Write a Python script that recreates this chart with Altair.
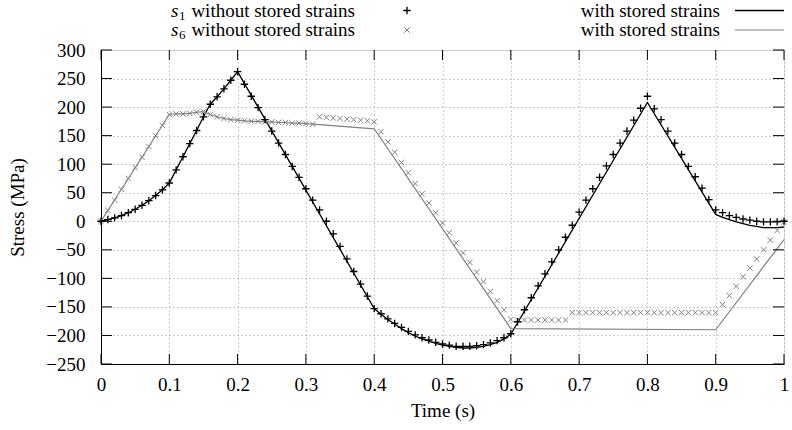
import altair as alt
import pandas as pd

# ---------------- data ----------------
t = [i / 100 for i in range(101)]

s1_without = [0, 3, 6, 10, 15, 21, 28, 36, 45, 55, 67,
              90, 113, 136, 159, 183, 205, 218, 232, 247, 262,
              240, 219, 199, 178, 158, 137, 117, 96, 77, 57,
              37, 20, 0, -22, -44, -66, -88, -110, -131, -153,
              -162, -171, -179, -186, -193, -199, -204, -208, -212, -215,
              -217, -219, -219, -219, -218, -216, -213, -209, -204, -197,
              -176, -155, -134, -113, -92, -71, -50, -28, -7, 16,
              37, 57, 77, 97, 117, 137, 158, 177, 198, 219,
              197, 178, 158, 137, 117, 96, 78, 58, 38, 20,
              15, 10, 7, 4, 2, 0, -1, -1, -1, 0]

s6_without = [0, 19, 37, 56, 75, 94, 112, 131, 150, 168, 187,
              188, 188, 189, 191, 192, 187, 183, 180, 178, 177,
              176, 175, 175, 174, 174, 173, 173, 172, 172, 171, 170,
              183, 182, 181, 180, 179, 178, 177, 176, 174,
              157, 139, 121, 103, 85, 66, 48, 32, 15, -3,
              -20, -38, -55, -72, -89, -106, -123, -139, -155,
              -172, -173, -173, -173, -173, -173, -173, -173, -173,
              -160, -160, -160, -160, -160, -160, -160, -160, -160, -160, -160,
              -160, -160, -160, -160, -160, -160, -160, -160, -160, -160, -160,
              -146, -130, -114, -97, -82, -66, -50, -33, -16, -1]

t_s1_with = [0, 0.01, 0.02, 0.03, 0.04, 0.05, 0.06, 0.07, 0.08, 0.09, 0.10,
             0.11, 0.12, 0.13, 0.14, 0.15, 0.16, 0.17, 0.18, 0.19, 0.20,
             0.40, 0.41, 0.42, 0.43, 0.44, 0.45, 0.46, 0.47, 0.48, 0.49, 0.50,
             0.51, 0.52, 0.53, 0.54, 0.55, 0.56, 0.57, 0.58, 0.59, 0.60,
             0.80, 0.90, 0.91, 0.92, 0.93, 0.94, 0.95, 0.96, 0.97, 0.98, 0.99, 1.00]
s1_with = [0, 3, 6, 10, 15, 21, 28, 36, 45, 55, 67,
           90, 113, 136, 159, 183, 205, 218, 232, 247, 262,
           -153, -163, -172, -180, -188, -195, -201, -206, -210, -214, -217,
           -219, -221, -222, -222, -221, -219, -216, -212, -206, -198,
           208, 12, 7, 3, -1, -4, -7, -9, -11, -11, -11, -10]

t_s6_with = [0, 0.10, 0.11, 0.12, 0.13, 0.14, 0.15, 0.16, 0.17, 0.18, 0.19, 0.20,
             0.21, 0.22, 0.23, 0.24, 0.25, 0.26, 0.27, 0.28, 0.29, 0.30, 0.31,
             0.40, 0.60, 0.90, 1.00]
s6_with = [0, 187, 188, 188, 189, 191, 192, 187, 183, 180, 178, 177,
           176, 175, 175, 174, 174, 173, 173, 172, 172, 171, 170,
           162, -188, -190, -32]

x_ticks = [0, 0.1, 0.2, 0.3, 0.4, 0.5, 0.6, 0.7, 0.8, 0.9, 1]
y_ticks = [-250, -200, -150, -100, -50, 0, 50, 100, 150, 200, 250, 300]

legend_rows = ["without stored strains", "without stored strains"]
legend_subs = ["1", "6"]
legend_right = ["with stored strains", "with stored strains"]

# ---------------- style ----------------
W, H = 683, 314
FONT = "Liberation Serif"
BLACK = "#000000"
GREY = "#808080"
PLUS = "M-1,0L1,0M0,-1L0,1"
TIMES = "M-1,-1L1,1M-1,1L1,-1"

xs = alt.Scale(domain=[0, 1], nice=False, zero=False)
ys = alt.Scale(domain=[-250, 300], nice=False, zero=False)

x_axis = alt.Axis(values=x_ticks, format="~g", grid=True, gridDash=[1, 3],
                  gridColor="#9a9a9a", gridWidth=1, ticks=False,
                  labelFont=FONT, labelFontSize=19, labelColor=BLACK,
                  labelPadding=11, title="Time (s)", titleFont=FONT,
                  titleFontSize=19, titleFontWeight="normal", titleColor=BLACK,
                  titlePadding=7, domainColor=BLACK, labelFlush=False)
y_axis = alt.Axis(values=y_ticks, grid=True, gridDash=[1, 3],
                  gridColor="#9a9a9a", gridWidth=1, ticks=False,
                  labelFont=FONT, labelFontSize=19, labelColor=BLACK,
                  labelPadding=16, title="Stress (MPa)", titleFont=FONT,
                  titleFontSize=19, titleFontWeight="normal", titleColor=BLACK,
                  titlePadding=18, domainColor=BLACK, labelFlush=False)

df_s1w = pd.DataFrame({"t": t_s1_with, "v": s1_with})
df_s6w = pd.DataFrame({"t": t_s6_with, "v": s6_with})
df_m = pd.DataFrame({"t": t, "s1": s1_without, "s6": s6_without})


def X(field):
    return alt.X(field, scale=xs, axis=x_axis)


def Y(field):
    return alt.Y(field, scale=ys, axis=y_axis)


line_s1 = alt.Chart(df_s1w).mark_line(color=BLACK, strokeWidth=1.3).encode(
    x=X("t:Q"), y=Y("v:Q"))
line_s6 = alt.Chart(df_s6w).mark_line(color=GREY, strokeWidth=1.2).encode(
    x=X("t:Q"), y=Y("v:Q"))
pts_s6 = alt.Chart(df_m).mark_point(shape=TIMES, size=30, color=GREY,
                                   strokeWidth=1.0, filled=False, opacity=1).encode(
    x=X("t:Q"), y=Y("s6:Q"))
pts_s1 = alt.Chart(df_m).mark_point(shape=PLUS, size=55, color=BLACK,
                                   strokeWidth=1.3, filled=False, opacity=1).encode(
    x=X("t:Q"), y=Y("s1:Q"))

# inward mirrored ticks (gnuplot style)
df_xt = pd.DataFrame({"t": x_ticks})
df_yt = pd.DataFrame({"v": y_ticks})
tick_bot = alt.Chart(df_xt).mark_rule(color=BLACK, strokeWidth=1).encode(
    x=X("t:Q"), y=alt.value(H), y2=alt.value(H - 10))
tick_top = alt.Chart(df_xt).mark_rule(color=BLACK, strokeWidth=1).encode(
    x=X("t:Q"), y=alt.value(0), y2=alt.value(10))
tick_left = alt.Chart(df_yt).mark_rule(color=BLACK, strokeWidth=1).encode(
    y=Y("v:Q"), x=alt.value(0), x2=alt.value(11))
tick_right = alt.Chart(df_yt).mark_rule(color=BLACK, strokeWidth=1).encode(
    y=Y("v:Q"), x=alt.value(W), x2=alt.value(W - 11))

# ---------------- key ----------------
ROW_Y = [-39.5, -20]
S_X = 70
KEY_FS = 19
layers_key = []
for i in range(2):
    d = pd.DataFrame({"s": ["s"], "sub": [legend_subs[i]],
                      "txt": [legend_rows[i]], "r": [legend_right[i]]})
    layers_key.append(alt.Chart(d).mark_text(font=FONT, fontSize=KEY_FS, fontStyle="italic",
                                             align="left", baseline="middle", color=BLACK).encode(
        text="s:N", x=alt.value(S_X), y=alt.value(ROW_Y[i])))
    layers_key.append(alt.Chart(d).mark_text(font=FONT, fontSize=13,
                                             align="left", baseline="middle", color=BLACK).encode(
        text="sub:N", x=alt.value(S_X + 8), y=alt.value(ROW_Y[i] + 5)))
    layers_key.append(alt.Chart(d).mark_text(font=FONT, fontSize=KEY_FS,
                                             align="right", baseline="middle", color=BLACK).encode(
        text="txt:N", x=alt.value(254), y=alt.value(ROW_Y[i])))
    layers_key.append(alt.Chart(d).mark_text(font=FONT, fontSize=KEY_FS,
                                             align="right", baseline="middle", color=BLACK).encode(
        text="r:N", x=alt.value(619), y=alt.value(ROW_Y[i])))

key_plus = alt.Chart(pd.DataFrame({"k": [1]})).mark_point(
    shape=PLUS, size=55, color=BLACK, strokeWidth=1.3, filled=False, opacity=1).encode(
    x=alt.value(306), y=alt.value(ROW_Y[0]))
key_times = alt.Chart(pd.DataFrame({"k": [1]})).mark_point(
    shape=TIMES, size=30, color=GREY, strokeWidth=1.0, filled=False, opacity=1).encode(
    x=alt.value(306), y=alt.value(ROW_Y[1]))
key_l1 = alt.Chart(pd.DataFrame({"k": [1]})).mark_rule(color=BLACK, strokeWidth=1.3).encode(
    x=alt.value(634), x2=alt.value(683), y=alt.value(ROW_Y[0]))
key_l6 = alt.Chart(pd.DataFrame({"k": [1]})).mark_rule(color=GREY, strokeWidth=1.2).encode(
    x=alt.value(634), x2=alt.value(683), y=alt.value(ROW_Y[1]))

chart = alt.layer(
    line_s1, line_s6, pts_s6, pts_s1,
    tick_bot, tick_top, tick_left, tick_right,
    *layers_key, key_plus, key_times, key_l1, key_l6,
).properties(
    width=W, height=H,
    autosize=alt.AutoSizeParams(type="none"),
    padding={"left": 101, "top": 50, "right": 8, "bottom": 66},
).configure_view(
    stroke=BLACK, strokeWidth=1
).configure(
    background="white"
)

chart.save("out.html", embed_options={"renderer": "svg", "actions": False})
